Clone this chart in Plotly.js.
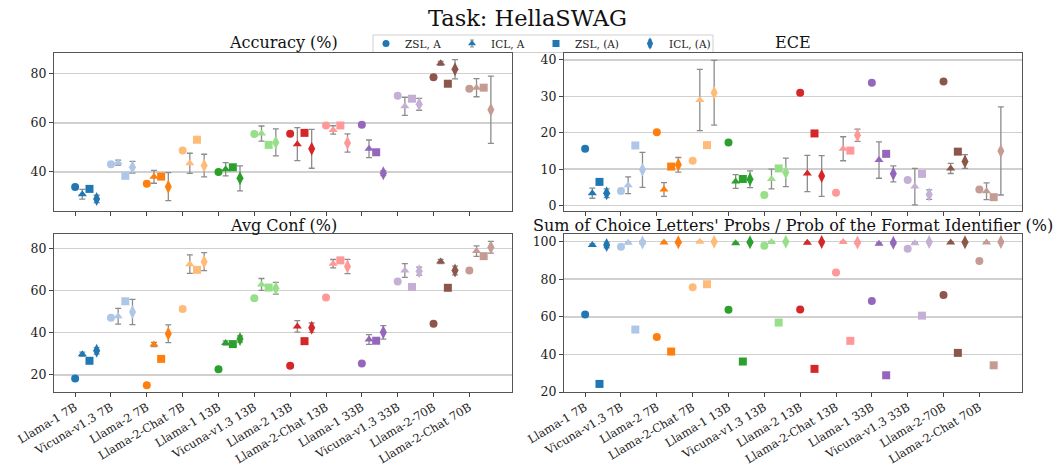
<!DOCTYPE html>
<html>
<head>
<meta charset="utf-8">
<script src="https://cdn.plot.ly/plotly-3.0.1.min.js"></script>
<style>html,body{margin:0;padding:0;background:#fff;}#chart{width:1055px;height:466px;}</style>
</head>
<body>
<div id="chart"></div>
<script>
const models = ["Llama-1 7B","Vicuna-v1.3 7B","Llama-2 7B","Llama-2-Chat 7B","Llama-1 13B","Vicuna-v1.3 13B","Llama-2 13B","Llama-2-Chat 13B","Llama-1 33B","Vicuna-v1.3 33B","Llama-2-70B","Llama-2-Chat 70B"];
const modelColors = ["#1f77b4","#aec7e8","#ff7f0e","#ffbb78","#2ca02c","#98df8a","#d62728","#ff9896","#9467bd","#c5b0d5","#8c564b","#c49c94"];
const methods = ["ZSL, A","ICL, A","ZSL, (A)","ICL, (A)"];

// Accuracy (%)
const accZslA   = [33.9,43.1,35.2,48.7,40.0,55.4,55.5,58.9,59.2,71.0,78.5,73.9];
const accIclA   = [30.9,43.8,38.0,43.5,41.1,55.6,51.3,57.1,49.4,66.7,84.2,74.3];
const accIclAErr= [2.0,1.0,2.6,4.1,2.7,3.1,6.7,1.7,3.6,3.7,0.8,3.7];
const accZslP   = [33.1,38.4,38.1,53.1,41.9,51.0,55.9,58.9,48.0,69.8,75.9,74.3];
const accIclP   = [29.0,41.9,34.0,42.6,37.4,52.0,49.4,51.8,39.5,67.5,81.8,65.3];
const accIclPErr= [1.5,2.4,5.7,4.6,5.1,5.5,7.9,3.7,1.0,2.4,3.9,13.7];

// ECE
const eceZslA   = [15.6,4.0,20.1,12.3,17.3,2.9,31.0,3.5,33.7,7.0,34.1,4.4];
const eceIclA   = [3.4,5.6,4.4,29.0,6.6,7.3,8.8,15.6,12.5,5.2,10.2,3.9];
const eceIclAErr= [1.4,2.3,1.9,8.4,1.9,2.7,5.0,3.3,5.0,5.0,1.4,2.3];
const eceZslP   = [6.5,16.5,10.7,16.6,7.3,10.2,19.8,15.1,14.2,8.7,14.8,2.3];
const eceIclP   = [3.4,9.8,11.2,31.0,7.2,9.1,8.1,19.3,8.7,3.0,12.1,15.0];
const eceIclPErr= [1.2,4.8,2.0,8.9,2.3,3.9,5.6,1.7,2.2,1.3,1.9,12.1];

// Avg Conf (%)
const confZslA   = [18.3,47.1,15.1,51.3,22.7,56.4,24.4,56.7,25.4,64.3,44.3,69.5];
const confIclA   = [29.8,47.8,34.4,72.5,35.1,62.9,43.0,72.7,36.8,69.5,73.8,78.7];
const confIclAErr= [1.0,3.7,1.0,4.4,1.0,2.8,2.7,2.0,2.3,3.3,1.0,2.5];
const confZslP   = [26.7,54.9,27.6,69.8,34.6,61.4,36.0,74.3,36.2,61.7,61.3,76.3];
const confIclP   = [31.4,49.8,39.5,73.7,37.0,61.1,42.4,71.4,40.2,69.2,69.5,80.5];
const confIclPErr= [1.5,6.0,4.2,4.3,1.5,2.8,2.2,3.4,3.2,1.9,2.1,2.8];

// Sum of Choice Letters' Probs / Prob of the Format Identifier (%)
const sumZslA   = [61.2,97.2,49.3,75.7,63.7,97.7,63.8,83.5,68.4,96.1,71.6,89.7];
const sumIclA   = [98.2,99.3,99.5,99.9,99.1,99.8,99.3,99.8,98.8,99.1,99.5,99.5];
const sumIclAErr= [0.5,0.4,0.3,0.1,0.4,0.2,0.4,0.2,0.5,0.4,0.3,0.3];
const sumZslP   = [24.3,53.2,41.5,77.3,36.2,56.9,32.3,47.2,28.9,60.6,40.8,34.2];
const sumIclP   = [98.2,99.5,99.6,99.9,99.6,99.9,99.8,99.5,99.3,99.8,99.6,99.8];
const sumIclPErr= [1.5,0.8,0.6,0.3,0.6,0.3,0.5,0.6,0.7,0.4,0.5,0.4];

const panels = [
  {title:"Accuracy (%)", xa:"x", ya:"y", data:[accZslA,accIclA,accZslP,accIclP], err:[null,accIclAErr,null,accIclPErr], range:[24.1,88.4], ticks:[40,60,80]},
  {title:"ECE", xa:"x2", ya:"y2", data:[eceZslA,eceIclA,eceZslP,eceIclP], err:[null,eceIclAErr,null,eceIclPErr], range:[-1.5,41.9], ticks:[0,10,20,30,40]},
  {title:"Avg Conf (%)", xa:"x3", ya:"y3", data:[confZslA,confIclA,confZslP,confIclP], err:[null,confIclAErr,null,confIclPErr], range:[11.9,86.8], ticks:[20,40,60,80]},
  {title:"Sum of Choice Letters' Probs / Prob of the Format Identifier (%)", xa:"x4", ya:"y4", data:[sumZslA,sumIclA,sumZslP,sumIclP], err:[null,sumIclAErr,null,sumIclPErr], range:[20,104], ticks:[20,40,60,80,100]}
];

const symbols = ["circle","triangle-up","square","diamond-tall"];
const sizes = [8,8,8,10];
const offsets = [0,0.2,0.4,0.6];
const FONT = "DejaVu Serif";
const W = 1055, H = 466;

const traces = [];
panels.forEach(p => {
  p.data.forEach((vals, m) => {
    const t = {
      type:"scatter", mode:"markers",
      name: methods[m],
      x: vals.map((_, i) => i + offsets[m]),
      y: vals,
      xaxis:p.xa, yaxis:p.ya,
      marker:{symbol:symbols[m], size:sizes[m], color:modelColors, line:{width:0}},
      showlegend:false, hoverinfo:"x+y"
    };
    if (p.err[m]) {
      t.error_y = {type:"data", array:p.err[m], visible:true, color:"#8c8c8c", thickness:1.3, width:3};
    }
    traces.push(t);
  });
});

// Legend (drawn on a transparent pixel-coordinate overlay axis)
const legX = [386, 472, 556, 650];   // marker centres (px)
const legY = 43.5;
const legendAnnotations = [];
methods.forEach((name, m) => {
  const t = {type:"scatter", mode:"markers", x:[legX[m]], y:[legY], xaxis:"x5", yaxis:"y5",
    marker:{symbol:symbols[m], size:sizes[m]-1, color:modelColors[0]}, showlegend:false, hoverinfo:"skip"};
  if (m === 1 || m === 3) t.error_y = {type:"constant", value:3.5, visible:true, color:"#8c8c8c", thickness:1.1, width:2};
  traces.push(t);
  legendAnnotations.push({text:name, xref:"paper", yref:"paper", x:(legX[m]+17)/W, y:1-legY/H,
    xanchor:"left", yanchor:"middle", showarrow:false, font:{family:FONT, size:10.5, color:"#222"}});
});

const xDomL = [54/W, 512/W], xDomR = [564/W, 1022/W];
const yDomT = [1-211/H, 1-53/H], yDomB = [1-392/H, 1-234/H];

function xaxis(domain, anchor, showLabels){
  return {domain, anchor, range:[-0.59,12.19], tickmode:"array", tickvals:models.map((_,i)=>i), ticktext:models,
    showticklabels:showLabels, tickangle:-31, ticks:"outside", ticklen:3.5, tickcolor:"#444",
    showgrid:false, zeroline:false, showline:true, mirror:true, linecolor:"#555", linewidth:1,
    tickfont:{family:FONT, size:11.5, color:"#222"}};
}
function yaxis(domain, anchor, p){
  return {domain, anchor, range:p.range, tickmode:"array", tickvals:p.ticks,
    ticks:"outside", ticklen:4, tickcolor:"#444",
    showgrid:true, gridcolor:"#d0d0d0", gridwidth:1.5, zeroline:false, showline:true, mirror:true, linecolor:"#555", linewidth:1,
    tickfont:{family:FONT, size:12.5, color:"#222"}};
}

const titleFont = {family:FONT, size:16, color:"#111"};
const layout = {
  width:W, height:H,
  margin:{l:0,r:0,t:0,b:0},
  paper_bgcolor:"#fff", plot_bgcolor:"rgba(0,0,0,0)",
  font:{family:FONT, color:"#222"},
  title:{text:"Task: HellaSWAG", x:0.5, xanchor:"center", y:1-18/H, yanchor:"middle", font:{family:FONT, size:22.5, color:"#111"}},
  xaxis: xaxis(xDomL, "y", false),
  yaxis: yaxis(yDomT, "x", panels[0]),
  xaxis2: xaxis(xDomR, "y2", false),
  yaxis2: yaxis(yDomT, "x2", panels[1]),
  xaxis3: xaxis(xDomL, "y3", true),
  yaxis3: yaxis(yDomB, "x3", panels[2]),
  xaxis4: xaxis(xDomR, "y4", true),
  yaxis4: yaxis(yDomB, "x4", panels[3]),
  xaxis5: {domain:[0,1], anchor:"y5", range:[0,W], visible:false, fixedrange:true},
  yaxis5: {domain:[0,1], anchor:"x5", range:[H,0], visible:false, fixedrange:true},
  showlegend:false,
  shapes:[
    {type:"rect", xref:"paper", yref:"paper", x0:373/W, x1:713/W, y0:1-52.5/H, y1:1-35/H,
     line:{color:"#cfcfcf", width:1}, fillcolor:"#ffffff", layer:"below"}
  ],
  annotations:[
    {text:panels[0].title, xref:"paper", yref:"paper", x:(xDomL[0]+xDomL[1])/2, y:1-43/H, xanchor:"center", yanchor:"middle", showarrow:false, font:titleFont},
    {text:panels[1].title, xref:"paper", yref:"paper", x:(xDomR[0]+xDomR[1])/2, y:1-43/H, xanchor:"center", yanchor:"middle", showarrow:false, font:titleFont},
    {text:panels[2].title, xref:"paper", yref:"paper", x:(xDomL[0]+xDomL[1])/2, y:1-225/H, xanchor:"center", yanchor:"middle", showarrow:false, font:titleFont},
    {text:panels[3].title, xref:"paper", yref:"paper", x:(xDomR[0]+xDomR[1])/2, y:1-225/H, xanchor:"center", yanchor:"middle", showarrow:false, font:titleFont}
  ].concat(legendAnnotations)
};

Plotly.newPlot("chart", traces, layout, {displayModeBar:false, staticPlot:true});
</script>
</body>
</html>
